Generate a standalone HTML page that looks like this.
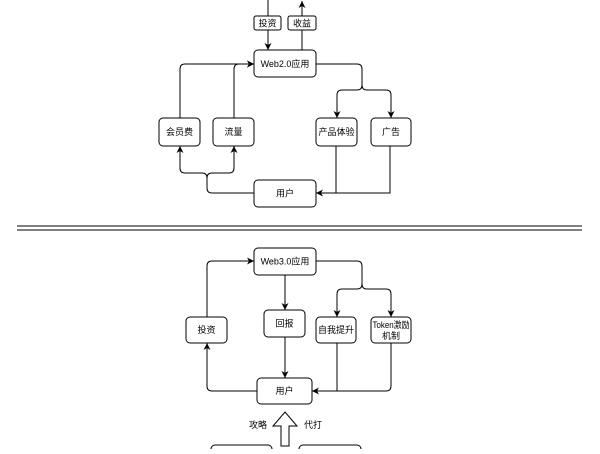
<!DOCTYPE html>
<html><head><meta charset="utf-8"><style>
html,body{margin:0;padding:0;background:#fff;}
svg text{font-family:"Liberation Sans","Noto Sans CJK SC",sans-serif;font-size:9px;fill:#000;}
</style></head><body>
<svg width="600" height="449" viewBox="0 0 600 449" xmlns="http://www.w3.org/2000/svg">
<defs><marker id="a" markerWidth="8" markerHeight="8" refX="7" refY="4" orient="auto" markerUnits="userSpaceOnUse"><path d="M0,0.5 L7,4 L0,7.5 L2,4 z" fill="#000"/></marker></defs>
<g fill="none" stroke="#000" stroke-width="1">
<path d="M268,0 V50" marker-end="url(#a)"/>
<path d="M302,50 V1" marker-end="url(#a)"/>
<rect x="254" y="16" width="27" height="14" rx="2" fill="#fff"/>
<rect x="288" y="16" width="28" height="14" rx="2" fill="#fff"/>
<rect x="254" y="50" width="62" height="27" rx="4"/>
<rect x="159" y="118" width="41" height="28" rx="4"/>
<rect x="213" y="118" width="41" height="28" rx="4"/>
<rect x="316" y="118" width="41" height="28" rx="4"/>
<rect x="371" y="118" width="40" height="28" rx="4"/>
<rect x="254" y="180" width="62" height="27" rx="4"/>
<path d="M180,118 V69 Q180,64 185,64 H254" marker-end="url(#a)"/>
<path d="M234,118 V69 Q234,64 239,64 H254" marker-end="url(#a)"/>
<path d="M316,64 H357 Q362,64 362,69 V85 Q362,90 357,90 H342 Q337,90 337,95 V118" marker-end="url(#a)"/>
<path d="M362,85 Q362,90 367,90 H386 Q391,90 391,95 V118" marker-end="url(#a)"/>
<path d="M254,193 H212 Q207,193 207,188 V178 Q207,173 202,173 H185 Q180,173 180,168 V146" marker-end="url(#a)"/>
<path d="M207,178 Q207,173 212,173 H229 Q234,173 234,168 V146" marker-end="url(#a)"/>
<path d="M336,146 V193 H316" marker-end="url(#a)"/>
<path d="M390,146 V193 H336"/>
<line x1="17" y1="226" x2="582" y2="226"/>
<line x1="17" y1="230" x2="582" y2="230"/>
<rect x="254" y="248" width="62" height="27" rx="4"/>
<rect x="186" y="317" width="41" height="26" rx="4"/>
<rect x="264" y="310" width="41" height="27" rx="4"/>
<rect x="316" y="317" width="40" height="26" rx="4"/>
<rect x="371" y="317" width="40" height="26" rx="4"/>
<rect x="257" y="378" width="55" height="26" rx="4"/>
<path d="M207,317 V266 Q207,261 212,261 H254" marker-end="url(#a)"/>
<path d="M257,391 H212 Q207,391 207,386 V343" marker-end="url(#a)"/>
<path d="M316,261 H357 Q362,261 362,266 V284 Q362,289 357,289 H342 Q337,289 337,294 V317" marker-end="url(#a)"/>
<path d="M362,284 Q362,289 367,289 H386 Q391,289 391,294 V317" marker-end="url(#a)"/>
<path d="M285,275 V310" marker-end="url(#a)"/>
<path d="M285,337 V378" marker-end="url(#a)"/>
<path d="M337,343 V391"/>
<path d="M391,343 V386 Q391,391 386,391 H312" marker-end="url(#a)"/>
<path d="M281,446 V426 H273 L285,412 L297,426 H289 V446 Z"/>
<rect x="211" y="445" width="61" height="20" rx="4"/>
<rect x="299" y="445" width="62" height="20" rx="4"/>
</g>
<g text-anchor="middle">
<text x="267.5" y="26.5">投资</text>
<text x="302" y="26.5">收益</text>
<text x="285" y="67">Web2.0应用</text>
<text x="179.5" y="135">会员费</text>
<text x="233.5" y="135">流量</text>
<text x="336.5" y="135">产品体验</text>
<text x="391" y="135">广告</text>
<text x="285" y="196.5">用户</text>
<text x="285" y="264.5">Web3.0应用</text>
<text x="206.5" y="333">投资</text>
<text x="284.5" y="326.5">回报</text>
<text x="336" y="333">自我提升</text>
<text x="391" y="328" textLength="37" lengthAdjust="spacingAndGlyphs">Token激励</text>
<text x="391" y="339">机制</text>
<text x="284.5" y="394">用户</text>
<text x="258" y="428">攻略</text>
<text x="313" y="428">代打</text>
</g>
</svg>
</body></html>
